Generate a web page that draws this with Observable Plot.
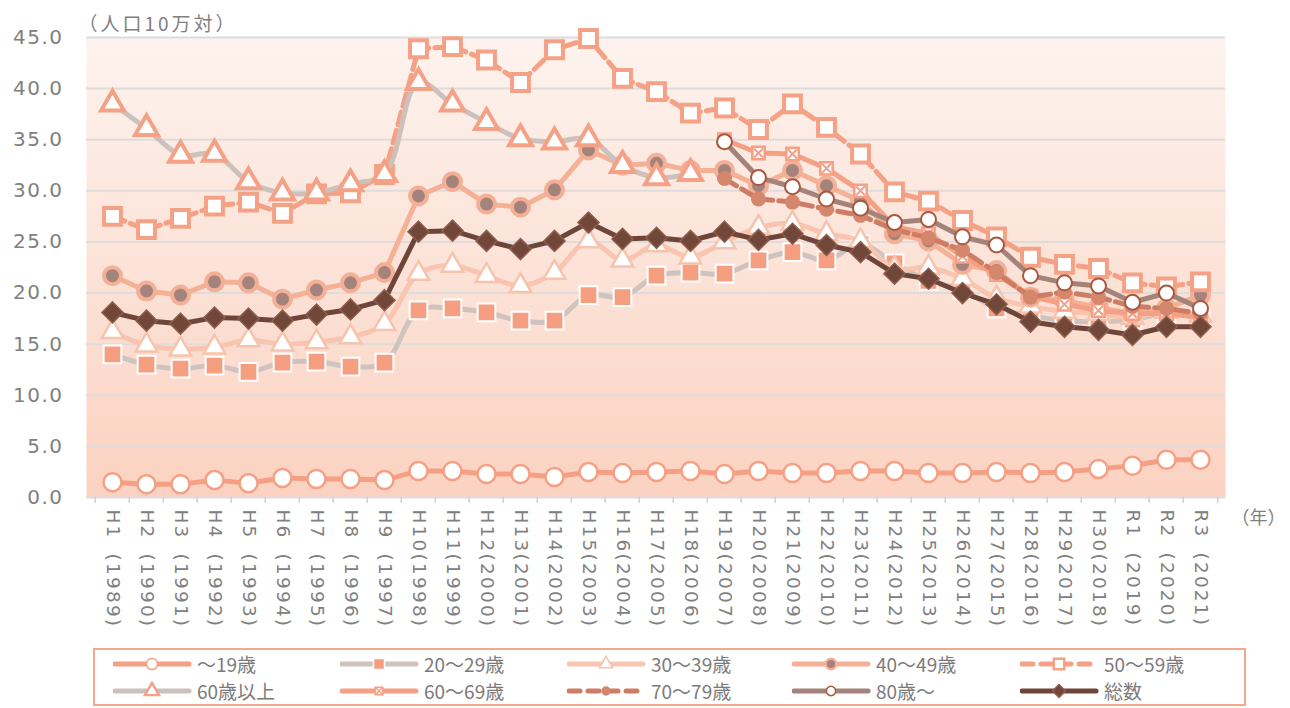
<!DOCTYPE html>
<html>
<head>
<meta charset="utf-8">
<script src="https://cdn.jsdelivr.net/npm/d3@7"></script>
<script src="https://cdn.jsdelivr.net/npm/@observablehq/plot@0.6"></script>
<style>
  body { margin: 0; background: #fff; font-family: "DejaVu Sans", "Noto Sans CJK JP", sans-serif; }
  #chart svg { display: block; }
  #chart [aria-label="x-axis tick label"] { letter-spacing: 2.2px; }
  #chart [aria-label="y-axis tick label"] { letter-spacing: 1.5px; }
  #chart .title-t { letter-spacing: 3px; }
  #legend {
    position: relative; margin-left: 93px; margin-top: 3px;
    width: 1131px; height: 54px; border: 2px solid #f5a88c; box-sizing: content-box;
    display: grid; grid-template-columns: 227px 227px 225px 228px 224px;
    grid-template-rows: 27px 27px; padding-left: 18px; align-items: center;
  }
  .item { display: flex; align-items: center; color: #7b7b7b; font-size: 19px;
          font-family: "Noto Sans CJK JP", sans-serif; white-space: nowrap; }
  .item svg { margin-right: 4px; flex: none; }
</style>
</head>
<body>
<div id="chart"></div>
<div id="legend"></div>
<script>
// ---- data ----
const labels = [
  "H1\u2007(1989)","H2\u2007(1990)","H3\u2007(1991)","H4\u2007(1992)","H5\u2007(1993)","H6\u2007(1994)",
  "H7\u2007(1995)","H8\u2007(1996)","H9\u2007(1997)","H10(1998)","H11(1999)","H12(2000)",
  "H13(2001)","H14(2002)","H15(2003)","H16(2004)","H17(2005)","H18(2006)","H19(2007)",
  "H20(2008)","H21(2009)","H22(2010)","H23(2011)","H24(2012)","H25(2013)","H26(2014)",
  "H27(2015)","H28(2016)","H29(2017)","H30(2018)","R1\u2007(2019)","R2\u2007(2020)","R3\u2007(2021)"
];
const yTicks = [0, 5, 10, 15, 20, 25, 30, 35, 40, 45];
const N = null;

const age19 = [1.5,1.3,1.3,1.7,1.4,1.9,1.8,1.8,1.7,2.6,2.6,2.3,2.3,2.0,2.5,2.4,2.5,2.6,2.3,2.6,2.4,2.4,2.6,2.6,2.4,2.4,2.5,2.4,2.5,2.8,3.1,3.7,3.7];
const age20 = [14.0,13.0,12.6,12.9,12.3,13.2,13.3,12.8,13.2,18.3,18.5,18.1,17.3,17.3,19.8,19.6,21.7,22.0,21.9,23.2,24.0,23.2,24.8,22.9,21.2,20.3,18.5,17.8,17.3,17.2,17.4,18.0,17.5];
const age30 = [16.2,14.9,14.5,14.7,15.4,15.0,15.2,15.7,17.0,21.9,22.7,21.7,20.7,22.0,25.1,23.2,24.7,23.5,25.0,26.4,26.8,25.8,25.1,22.4,22.5,21.4,19.5,18.7,18.2,18.0,17.6,18.2,17.8];
const age40 = [21.7,20.2,19.8,21.1,21.0,19.4,20.3,21.0,22.0,29.5,30.9,28.7,28.4,30.1,34.0,32.5,32.7,32.0,32.0,30.5,32.0,30.5,29.0,25.8,25.1,22.8,22.2,19.6,19.3,18.6,18.0,18.5,19.8];
const age50 = [27.5,26.2,27.3,28.5,28.9,27.8,29.7,29.8,31.6,43.9,44.1,42.8,40.6,43.8,44.9,41.0,39.7,37.6,38.1,36.0,38.5,36.2,33.6,29.9,29.0,27.1,25.5,23.5,22.8,22.4,21.0,20.6,21.1];
const age60plus = [38.5,36.1,33.5,33.6,30.9,29.8,29.8,30.7,31.6,40.6,38.5,36.7,35.1,34.8,35.1,32.5,31.3,31.7,N,N,N,N,N,N,N,N,N,N,N,N,N,N,N];
const age60 = [N,N,N,N,N,N,N,N,N,N,N,N,N,N,N,N,N,N,35.0,33.7,33.6,32.2,30.0,26.5,25.8,23.6,21.8,19.7,18.9,18.3,18.0,18.0,17.6];
const age70 = [N,N,N,N,N,N,N,N,N,N,N,N,N,N,N,N,N,N,31.2,29.2,28.9,28.2,27.6,26.2,25.4,24.2,22.0,19.6,20.1,19.6,18.7,18.5,18.0];
const age80 = [N,N,N,N,N,N,N,N,N,N,N,N,N,N,N,N,N,N,34.8,31.3,30.4,29.2,28.3,26.9,27.2,25.5,24.7,21.7,21.0,20.7,19.1,20.0,18.5];
const total = [18.1,17.3,17.0,17.6,17.5,17.3,17.9,18.4,19.3,26.0,26.1,25.1,24.3,25.1,26.9,25.3,25.4,25.1,26.0,25.2,25.8,24.7,24.0,21.9,21.4,20.0,18.9,17.2,16.7,16.4,15.9,16.7,16.7];

const seriesNames = ["～19歳","20～29歳","30～39歳","40～49歳","50～59歳","60歳以上","60～69歳","70～79歳","80歳～","総数"];
const seriesValues = [age19, age20, age30, age40, age50, age60plus, age60, age70, age80, total];

// ---- styles ----
const styles = {
  "～19歳":   {line: "#f5a084", curve: "linear", symbol: "circle", r: 9, fill: "#fff", stroke: "#f5a084", sw: 2.5},
  "20～29歳": {line: "#cfc3bf", curve: "catmull-rom", symbol: "square", r: 10, fill: "#f59e80", stroke: "#fff", sw: 2},
  "30～39歳": {line: "#f9c5b0", curve: "catmull-rom", symbol: "triangle", r: 8, fill: "#fff", stroke: "#f8c3ac", sw: 2.5},
  "40～49歳": {line: "#f5b095", curve: "linear", symbol: "circle", r: 8.5, fill: "#a3837b", stroke: "#f4b096", sw: 4},
  "50～59歳": {line: "#f5a185", curve: "linear", dash: "13 6", symbol: "square", r: 9.5, fill: "#fff", stroke: "#f5a185", sw: 4},
  "60歳以上": {line: "#cdc1bd", curve: "catmull-rom", symbol: "triangle", r: 8.5, fill: "#fff", stroke: "#f5a185", sw: 4},
  "60～69歳": {line: "#f5a084", curve: "linear", symbol: "square", r: 7, fill: "#fff", stroke: "#f5a084", sw: 2.5, cross: true},
  "70～79歳": {line: "#cd7d63", curve: "linear", dash: "14 6", symbol: "circle", r: 7.5, fill: "#d4876d", stroke: "none", sw: 0},
  "80歳～":   {line: "#a3837a", curve: "linear", symbol: "circle", r: 7.5, fill: "#fff", stroke: "#a9573f", sw: 2},
  "総数":     {line: "#6e4539", curve: "linear", symbol: "diamond2", r: 9.5, fill: "#71473a", stroke: "#8e5d4c", sw: 1.5}
};

const rows = [];
seriesNames.forEach((name, k) => {
  seriesValues[k].forEach((v, i) => { if (v != null) rows.push({x: labels[i], y: v, series: name}); });
});

const W = 1290, H = 645, mL = 86, mR = 65, mT = 37, mB = 148;
const step = (W - mL - mR) / labels.length;

const defsMark = () => {
  const defs = d3.create("svg:defs");
  const g = defs.append("linearGradient").attr("id", "bgGrad")
    .attr("x1", 0).attr("y1", 0).attr("x2", 0).attr("y2", 1);
  g.append("stop").attr("offset", "0%").attr("stop-color", "#fdf3ee");
  g.append("stop").attr("offset", "100%").attr("stop-color", "#fbd2c1");
  return defs.node();
};

const seriesMarks = [];
seriesNames.forEach(name => {
  const s = styles[name];
  const d = rows.filter(r => r.series === name);
  seriesMarks.push(Plot.line(d, {x: "x", y: "y", stroke: s.line, strokeWidth: 5,
    strokeDasharray: s.dash, curve: s.curve, strokeLinejoin: "round"}));
  seriesMarks.push(Plot.dot(d, {x: "x", y: "y", symbol: s.symbol, r: s.r, fill: s.fill,
    stroke: s.stroke, strokeWidth: s.sw}));
  if (s.cross) seriesMarks.push(Plot.dot(d, {x: "x", y: "y", symbol: "times", r: 4.2,
    stroke: s.stroke, strokeWidth: 2}));
});

const chart = Plot.plot({
  width: W, height: H,
  marginLeft: mL, marginRight: mR, marginTop: mT, marginBottom: mB,
  style: {fontFamily: "DejaVu Sans, sans-serif", background: "#fff", overflow: "visible"},
  x: {type: "point", domain: labels, padding: 0.5, label: null},
  y: {domain: [0, 45], label: null},
  marks: [
    defsMark,
    Plot.frame({fill: "url(#bgGrad)", stroke: "none"}),
    Plot.gridY(yTicks, {stroke: "#dedcdc", strokeOpacity: 1, strokeWidth: 2}),
    Plot.axisY(yTicks, {tickSize: 0, tickPadding: 23, tickFormat: d => d.toFixed(1),
      fontSize: 20, fill: "#808080"}),
    Plot.axisX({tickSize: 6, fill: "none", stroke: "#d2d2d2", strokeWidth: 1.5, dx: -step / 2}),
    Plot.axisX([labels[labels.length - 1]], {tickSize: 6, fill: "none", stroke: "#d2d2d2", strokeWidth: 1.5, dx: step / 2}),
    Plot.axisX({tickSize: 0, tickRotate: 90, tickPadding: 12, fontSize: 18.5, fill: "#808080", textAnchor: "start"}),
    Plot.text(["（人口10万対）"], {frameAnchor: "top-left", dx: -8, dy: -20, textAnchor: "start",
      fontSize: 19, fill: "#808080", fontFamily: "Noto Sans CJK JP", className: "title-t"}),
    Plot.text(["（年）"], {frameAnchor: "bottom-right", dx: 6, dy: 26, textAnchor: "start",
      fontSize: 18, fill: "#808080", fontFamily: "Noto Sans CJK JP"}),
    ...seriesMarks
  ]
});
document.getElementById("chart").appendChild(chart);

// ---- legend ----
const legendOrder = ["～19歳","20～29歳","30～39歳","40～49歳","50～59歳","60歳以上","60～69歳","70～79歳","80歳～","総数"];
const legend = d3.select("#legend");
legendOrder.forEach(name => {
  const s = styles[name];
  const item = legend.append("div").attr("class", "item");
  const svg = item.append("svg").attr("width", 80).attr("height", 22);
  svg.append("line").attr("x1", 2).attr("x2", 76).attr("y1", 11).attr("y2", 11)
    .attr("stroke", s.line).attr("stroke-width", 5).attr("stroke-linecap", "round")
    .attr("stroke-dasharray", s.dash ? "11 8" : null);
  const symMap = {circle: d3.symbolCircle, square: d3.symbolSquare, triangle: d3.symbolTriangle, diamond2: d3.symbolDiamond2};
  const rr = s.r * 0.62;
  svg.append("path").attr("transform", "translate(39,11)")
    .attr("d", d3.symbol(symMap[s.symbol], Math.PI * rr * rr)())
    .attr("fill", s.fill).attr("stroke", s.stroke).attr("stroke-width", Math.max(1.5, s.sw * 0.6));
  if (s.cross) svg.append("path").attr("transform", "translate(39,11)")
    .attr("d", d3.symbol(d3.symbolTimes, Math.PI * 2.8 * 2.8)())
    .attr("fill", "none").attr("stroke", s.stroke).attr("stroke-width", 1.5);
  item.append("span").text(name);
});
</script>
</body>
</html>
